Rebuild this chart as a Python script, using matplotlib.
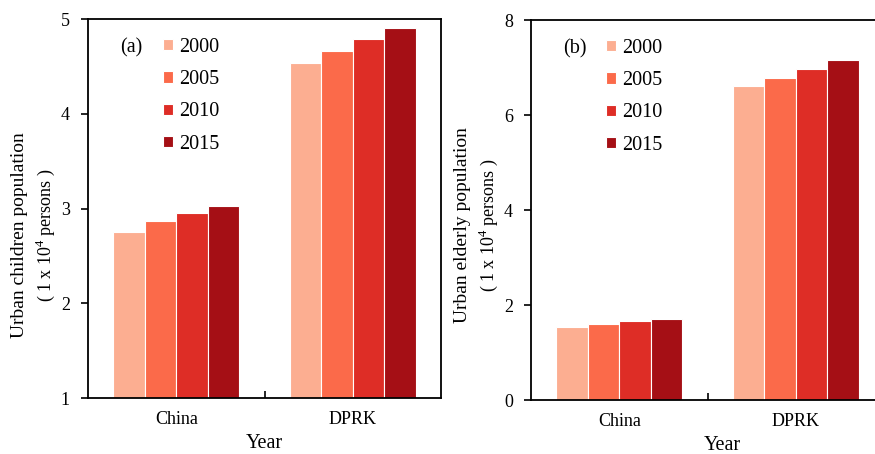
import numpy as np
import matplotlib
matplotlib.use('Agg')
import matplotlib.pyplot as plt

countries = ['China', 'DPRK']
years = ['2000', '2005', '2010', '2015']
children = {
    '2000': [2.75, 4.54],
    '2005': [2.87, 4.66],
    '2010': [2.95, 4.79],
    '2015': [3.03, 4.91],
}
elderly = {
    '2000': [1.54, 6.61],
    '2005': [1.61, 6.78],
    '2010': [1.66, 6.97],
    '2015': [1.70, 7.16],
}
colors = ['#FCAE91', '#FB6A4A', '#DE2D26', '#A50F15']

plt.rcParams['font.family'] = ['Liberation Serif', 'DejaVu Serif']
plt.rcParams['mathtext.fontset'] = 'custom'
plt.rcParams['mathtext.rm'] = 'Liberation Serif'

fig = plt.figure(figsize=(8.75, 4.54), dpi=100)
ax_a = fig.add_axes([0.1006, 0.1233, 0.4034, 0.8348])
ax_b = fig.add_axes([0.6069, 0.1189, 0.4034, 0.837])


def draw_panel(ax, data, ylim, yticks, tag, ylab1, lab_y, year_x):
    x = np.arange(len(countries))
    w = 0.178
    for i, yr in enumerate(years):
        ax.bar(x + (i - 1.5) * w, np.array(data[yr]) - ylim[0], w, bottom=ylim[0],
               color=colors[i], edgecolor='white', linewidth=0.8, label=yr)
    ax.set_xlim(-0.5, 1.5)
    ax.set_ylim(*ylim)
    ax.set_yticks(yticks)
    ax.set_xticks(x)
    ax.set_xticklabels(countries, fontsize=13)
    ax.set_xticks([0.5], minor=True)
    ax.tick_params(axis='x', which='major', length=0, pad=9)
    ax.tick_params(axis='x', which='minor', direction='in', length=5, width=1.2)
    ax.tick_params(axis='y', direction='out', length=5, width=1.2, labelsize=13, pad=8)
    for s in ax.spines.values():
        s.set_linewidth(1.3)
    ax.set_xlabel('Year', fontsize=14.5)
    ax.xaxis.set_label_coords(year_x, -0.096)
    ax.text(0.09, 0.925, tag, transform=ax.transAxes, fontsize=14.5, ha='left', va='center')
    ax.text(-0.195, lab_y, ylab1, transform=ax.transAxes, fontsize=14,
            rotation=90, ha='center', va='center')
    ax.text(-0.122, lab_y, '( 1 x 10$^4$ persons )', transform=ax.transAxes, fontsize=13,
            rotation=90, ha='center', va='center')
    ax.legend(loc='upper left', bbox_to_anchor=(0.16, 0.998), frameon=False,
              fontsize=14.5, handlelength=0.5, handleheight=0.5, handletextpad=0.3,
              labelspacing=0.66)


draw_panel(ax_a, children, (1, 5), [1, 2, 3, 4, 5], '(a)',
           'Urban children population', 0.43, 0.5)
draw_panel(ax_b, elderly, (0, 8), [0, 2, 4, 6, 8], '(b)',
           'Urban elderly population', 0.46, 0.541)

fig.savefig('out.png', dpi=100)
